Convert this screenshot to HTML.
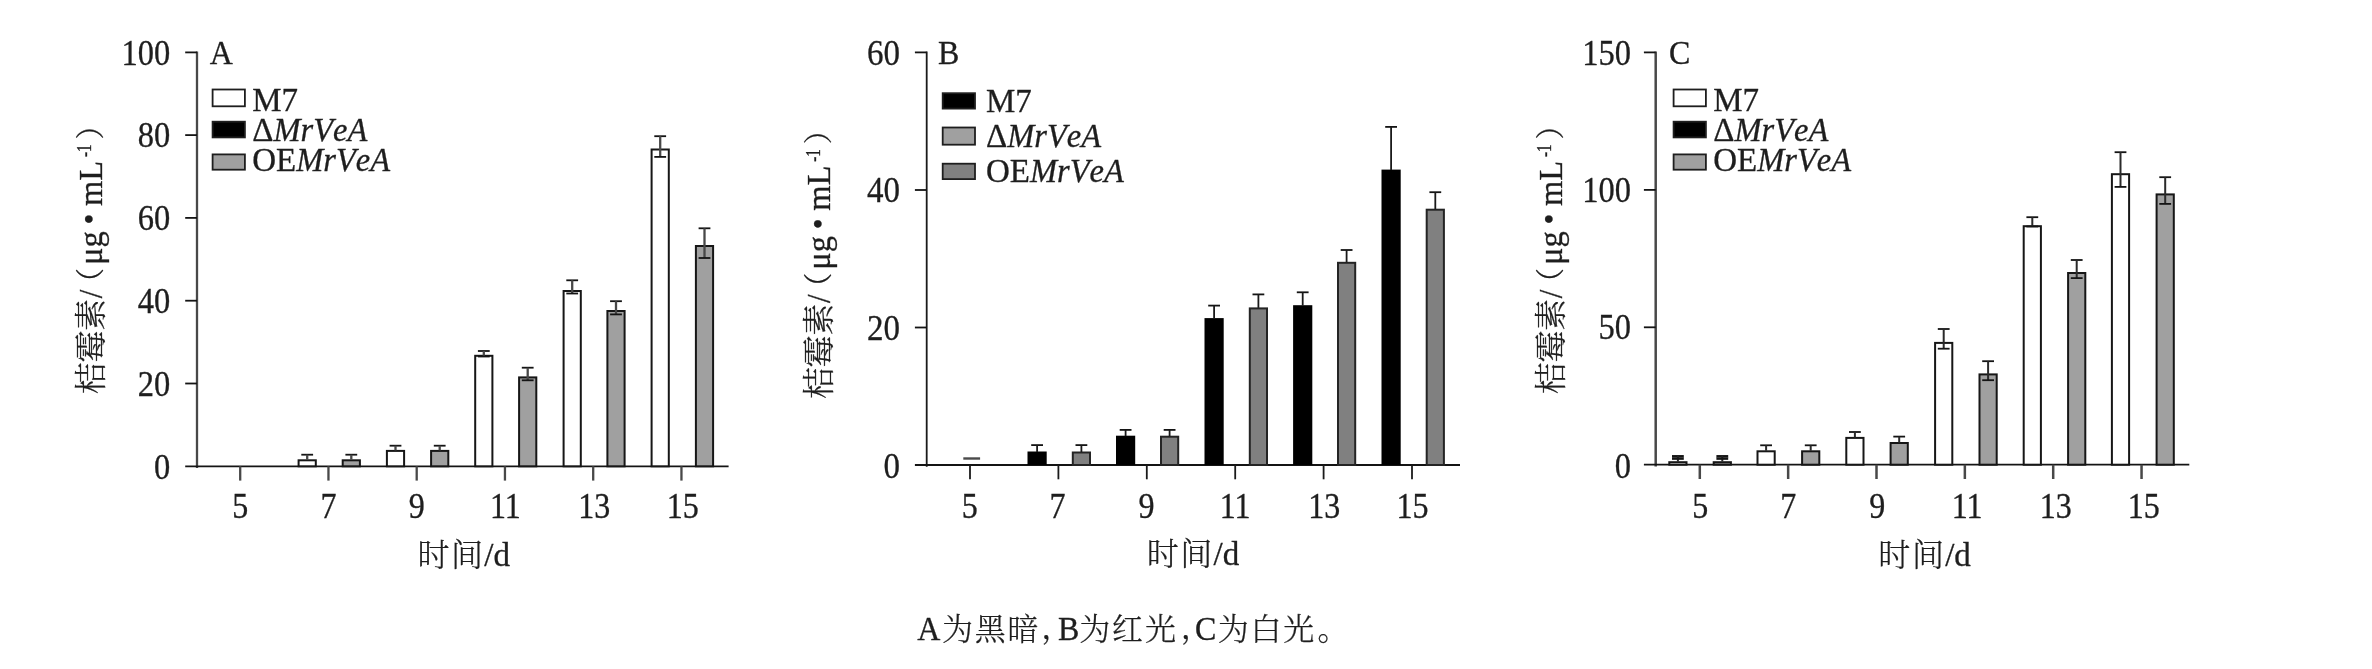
<!DOCTYPE html>
<html lang="zh-CN">
<head>
<meta charset="utf-8">
<title>桔霉素</title>
<style>
html,body{margin:0;padding:0;background:#fff;}
body{width:2372px;height:669px;overflow:hidden;}
svg{display:block;filter:blur(0.45px);}
svg text{font-family:"Liberation Serif","Noto Serif CJK SC",serif;fill:#1e1e1e;stroke:#1e1e1e;stroke-width:0.3px;}
svg text.cj{font-family:"Liberation Serif","Noto Serif CJK SC",serif;font-weight:300;stroke-width:0.25px;}
</style>
</head>
<body>
<svg width="2372" height="669" viewBox="0 0 2372 669">
<rect x="0" y="0" width="2372" height="669" fill="#fff"/>
<g id="pa">
<line x1="197.00" y1="51.50" x2="197.00" y2="468.10" stroke="#484848" stroke-width="2.3" />
<line x1="185.20" y1="466.30" x2="728.60" y2="466.30" stroke="#141414" stroke-width="1.8" />
<line x1="185.20" y1="52.40" x2="197.00" y2="52.40" stroke="#141414" stroke-width="1.8" />
<text transform="translate(170.30 64.50) scale(1 1.1)" text-anchor="end" font-size="32.5" >100</text>
<line x1="185.20" y1="135.10" x2="197.00" y2="135.10" stroke="#141414" stroke-width="1.8" />
<text transform="translate(170.30 147.20) scale(1 1.1)" text-anchor="end" font-size="32.5" >80</text>
<line x1="185.20" y1="217.90" x2="197.00" y2="217.90" stroke="#141414" stroke-width="1.8" />
<text transform="translate(170.30 230.00) scale(1 1.1)" text-anchor="end" font-size="32.5" >60</text>
<line x1="185.20" y1="300.70" x2="197.00" y2="300.70" stroke="#141414" stroke-width="1.8" />
<text transform="translate(170.30 312.80) scale(1 1.1)" text-anchor="end" font-size="32.5" >40</text>
<line x1="185.20" y1="383.50" x2="197.00" y2="383.50" stroke="#141414" stroke-width="1.8" />
<text transform="translate(170.30 395.60) scale(1 1.1)" text-anchor="end" font-size="32.5" >20</text>
<text transform="translate(170.30 479.10) scale(1 1.1)" text-anchor="end" font-size="32.5" >0</text>
<line x1="240.20" y1="466.30" x2="240.20" y2="480.60" stroke="#484848" stroke-width="2.3" />
<text transform="translate(240.20 518.40) scale(1 1.11)" text-anchor="middle" font-size="32" >5</text>
<line x1="328.45" y1="466.30" x2="328.45" y2="480.60" stroke="#484848" stroke-width="2.3" />
<text transform="translate(328.45 518.40) scale(1 1.11)" text-anchor="middle" font-size="32" >7</text>
<line x1="416.70" y1="466.30" x2="416.70" y2="480.60" stroke="#484848" stroke-width="2.3" />
<text transform="translate(416.70 518.40) scale(1 1.11)" text-anchor="middle" font-size="32" >9</text>
<line x1="504.95" y1="466.30" x2="504.95" y2="480.60" stroke="#484848" stroke-width="2.3" />
<text transform="translate(505.45 518.40) scale(1 1.11)" text-anchor="middle" font-size="32" >11</text>
<line x1="593.20" y1="466.30" x2="593.20" y2="480.60" stroke="#484848" stroke-width="2.3" />
<text transform="translate(594.20 518.40) scale(1 1.11)" text-anchor="middle" font-size="32" >13</text>
<line x1="681.45" y1="466.30" x2="681.45" y2="480.60" stroke="#484848" stroke-width="2.3" />
<text transform="translate(682.75 518.40) scale(1 1.11)" text-anchor="middle" font-size="32" >15</text>
<text transform="translate(209.80 64.30) scale(1 1.05)" text-anchor="start" font-size="32" >A</text>
<rect x="212.60" y="89.50" width="32.30" height="16.80" fill="#fff" stroke="#1e1e1e" stroke-width="1.8"/>
<text transform="translate(252.20 110.60) scale(1 1.05)" text-anchor="start" font-size="33" style="font-kerning:none">M7</text>
<rect x="212.60" y="121.70" width="32.30" height="15.70" fill="#000" stroke="#1e1e1e" stroke-width="1.8"/>
<text transform="translate(252.20 140.70) scale(1 1.05)" text-anchor="start" font-size="33" style="font-kerning:none">Δ<tspan font-style="italic" font-size="32.5">MrVeA</tspan></text>
<rect x="212.60" y="154.40" width="32.30" height="15.30" fill="#a0a0a0" stroke="#1e1e1e" stroke-width="1.8"/>
<text transform="translate(252.20 171.40) scale(1 1.05)" text-anchor="start" font-size="33" style="font-kerning:none">OE<tspan font-style="italic" font-size="32.5">MrVeA</tspan></text>
<rect x="298.60" y="460.30" width="17.20" height="6.00" fill="#fff" stroke="#161616" stroke-width="2.0"/>
<line x1="301.30" y1="454.70" x2="313.10" y2="454.70" stroke="#141414" stroke-width="1.8" />
<line x1="307.20" y1="454.70" x2="307.20" y2="459.80" stroke="#484848" stroke-width="2.3" />
<rect x="342.70" y="460.30" width="17.20" height="6.00" fill="#a0a0a0" stroke="#161616" stroke-width="2.0"/>
<line x1="345.40" y1="454.70" x2="357.20" y2="454.70" stroke="#141414" stroke-width="1.8" />
<line x1="351.30" y1="454.70" x2="351.30" y2="459.80" stroke="#484848" stroke-width="2.3" />
<rect x="386.90" y="450.90" width="17.20" height="15.40" fill="#fff" stroke="#161616" stroke-width="2.0"/>
<line x1="389.60" y1="445.70" x2="401.40" y2="445.70" stroke="#141414" stroke-width="1.8" />
<line x1="395.50" y1="445.70" x2="395.50" y2="450.40" stroke="#484848" stroke-width="2.3" />
<rect x="431.10" y="450.90" width="17.20" height="15.40" fill="#a0a0a0" stroke="#161616" stroke-width="2.0"/>
<line x1="433.80" y1="445.70" x2="445.60" y2="445.70" stroke="#141414" stroke-width="1.8" />
<line x1="439.70" y1="445.70" x2="439.70" y2="450.40" stroke="#484848" stroke-width="2.3" />
<rect x="475.20" y="355.80" width="17.20" height="110.50" fill="#fff" stroke="#161616" stroke-width="2.0"/>
<line x1="477.90" y1="351.00" x2="489.70" y2="351.00" stroke="#141414" stroke-width="1.8" />
<line x1="483.80" y1="351.00" x2="483.80" y2="356.50" stroke="#484848" stroke-width="2.3" />
<line x1="477.90" y1="356.50" x2="489.70" y2="356.50" stroke="#141414" stroke-width="1.8" />
<rect x="519.10" y="377.40" width="17.20" height="88.90" fill="#a0a0a0" stroke="#161616" stroke-width="2.0"/>
<line x1="521.80" y1="367.70" x2="533.60" y2="367.70" stroke="#141414" stroke-width="1.8" />
<line x1="527.70" y1="367.70" x2="527.70" y2="380.30" stroke="#484848" stroke-width="2.3" />
<line x1="521.80" y1="380.30" x2="533.60" y2="380.30" stroke="#141414" stroke-width="1.8" />
<rect x="563.60" y="291.00" width="17.20" height="175.30" fill="#fff" stroke="#161616" stroke-width="2.0"/>
<line x1="566.30" y1="280.30" x2="578.10" y2="280.30" stroke="#141414" stroke-width="1.8" />
<line x1="572.20" y1="280.30" x2="572.20" y2="293.50" stroke="#484848" stroke-width="2.3" />
<line x1="566.30" y1="293.50" x2="578.10" y2="293.50" stroke="#141414" stroke-width="1.8" />
<rect x="607.40" y="311.00" width="17.20" height="155.30" fill="#a0a0a0" stroke="#161616" stroke-width="2.0"/>
<line x1="610.10" y1="301.20" x2="621.90" y2="301.20" stroke="#141414" stroke-width="1.8" />
<line x1="616.00" y1="301.20" x2="616.00" y2="314.40" stroke="#484848" stroke-width="2.3" />
<line x1="610.10" y1="314.40" x2="621.90" y2="314.40" stroke="#141414" stroke-width="1.8" />
<rect x="651.60" y="149.50" width="17.20" height="316.80" fill="#fff" stroke="#161616" stroke-width="2.0"/>
<line x1="654.30" y1="136.20" x2="666.10" y2="136.20" stroke="#141414" stroke-width="1.8" />
<line x1="660.20" y1="136.20" x2="660.20" y2="156.90" stroke="#484848" stroke-width="2.3" />
<line x1="654.30" y1="156.90" x2="666.10" y2="156.90" stroke="#141414" stroke-width="1.8" />
<rect x="695.90" y="246.00" width="17.20" height="220.30" fill="#a0a0a0" stroke="#161616" stroke-width="2.0"/>
<line x1="698.60" y1="228.30" x2="710.40" y2="228.30" stroke="#141414" stroke-width="1.8" />
<line x1="704.50" y1="228.30" x2="704.50" y2="258.00" stroke="#484848" stroke-width="2.3" />
<line x1="698.60" y1="258.00" x2="710.40" y2="258.00" stroke="#141414" stroke-width="1.8" />
<text x="417.40" y="566.00" font-size="32" class="cj" letter-spacing="1.6">时间</text>
<text x="484.30" y="566.00" font-size="33">/d</text>
<g transform="translate(101.50,0.00) rotate(-90)">
<text transform="translate(-394.30 0.00) scale(1 1.0)" font-size="32" class="cj" letter-spacing="-0.3">桔霉素</text>
<text transform="translate(-298.30 0.00) scale(1 1.1)" font-size="31" >/</text>
<text transform="translate(-296.90 -1.00) scale(1 1.0)" font-size="29" class="cj">（</text>
<text transform="translate(-264.90 0.00) scale(1 1.05)" font-size="32.5" >μg</text>
<text transform="translate(-224.40 -1.20) scale(1 1.0)" font-size="31" >•</text>
<text transform="translate(-205.90 0.00) scale(1 1.05)" font-size="32.5" >mL</text>
<text transform="translate(-157.00 -10.2) scale(0.8 1.05)" font-size="19">-1</text>
<text transform="translate(-139.40 -1.00) scale(1 1.0)" font-size="29" class="cj">）</text>
</g>
</g>
<g id="pb">
<line x1="926.70" y1="51.50" x2="926.70" y2="466.80" stroke="#1a1a1a" stroke-width="1.8" />
<line x1="914.90" y1="465.00" x2="1460.00" y2="465.00" stroke="#141414" stroke-width="1.8" />
<line x1="914.90" y1="52.40" x2="926.70" y2="52.40" stroke="#141414" stroke-width="1.8" />
<text transform="translate(900.00 64.50) scale(1 1.06)" text-anchor="end" font-size="33" >60</text>
<line x1="914.90" y1="190.00" x2="926.70" y2="190.00" stroke="#141414" stroke-width="1.8" />
<text transform="translate(900.00 202.10) scale(1 1.06)" text-anchor="end" font-size="33" >40</text>
<line x1="914.90" y1="327.50" x2="926.70" y2="327.50" stroke="#141414" stroke-width="1.8" />
<text transform="translate(900.00 339.60) scale(1 1.06)" text-anchor="end" font-size="33" >20</text>
<text transform="translate(900.00 477.80) scale(1 1.06)" text-anchor="end" font-size="33" >0</text>
<line x1="970.00" y1="465.00" x2="970.00" y2="479.30" stroke="#1a1a1a" stroke-width="1.8" />
<text transform="translate(969.70 518.40) scale(1 1.11)" text-anchor="middle" font-size="32" >5</text>
<line x1="1058.40" y1="465.00" x2="1058.40" y2="479.30" stroke="#1a1a1a" stroke-width="1.8" />
<text transform="translate(1057.60 518.40) scale(1 1.11)" text-anchor="middle" font-size="32" >7</text>
<line x1="1146.80" y1="465.00" x2="1146.80" y2="479.30" stroke="#1a1a1a" stroke-width="1.8" />
<text transform="translate(1146.40 518.40) scale(1 1.11)" text-anchor="middle" font-size="32" >9</text>
<line x1="1235.20" y1="465.00" x2="1235.20" y2="479.30" stroke="#1a1a1a" stroke-width="1.8" />
<text transform="translate(1235.20 518.40) scale(1 1.11)" text-anchor="middle" font-size="32" >11</text>
<line x1="1323.60" y1="465.00" x2="1323.60" y2="479.30" stroke="#1a1a1a" stroke-width="1.8" />
<text transform="translate(1324.20 518.40) scale(1 1.11)" text-anchor="middle" font-size="32" >13</text>
<line x1="1412.00" y1="465.00" x2="1412.00" y2="479.30" stroke="#1a1a1a" stroke-width="1.8" />
<text transform="translate(1412.50 518.40) scale(1 1.11)" text-anchor="middle" font-size="32" >15</text>
<text transform="translate(938.00 64.30) scale(1 1.05)" text-anchor="start" font-size="32" >B</text>
<rect x="942.70" y="93.20" width="32.30" height="15.40" fill="#000" stroke="#1e1e1e" stroke-width="1.8"/>
<text transform="translate(986.00 111.80) scale(1 1.05)" text-anchor="start" font-size="33" style="font-kerning:none">M7</text>
<rect x="942.70" y="127.50" width="32.30" height="17.20" fill="#a0a0a0" stroke="#1e1e1e" stroke-width="1.8"/>
<text transform="translate(986.00 146.80) scale(1 1.05)" text-anchor="start" font-size="33" style="font-kerning:none">Δ<tspan font-style="italic" font-size="32.5">MrVeA</tspan></text>
<rect x="942.70" y="163.70" width="32.30" height="15.40" fill="#808080" stroke="#1e1e1e" stroke-width="1.8"/>
<text transform="translate(986.00 181.90) scale(1 1.05)" text-anchor="start" font-size="33" style="font-kerning:none">OE<tspan font-style="italic" font-size="32.5">MrVeA</tspan></text>
<rect x="1027.50" y="451.50" width="19.20" height="13.50" fill="#000" stroke="none" stroke-width="0"/>
<line x1="1031.20" y1="445.10" x2="1043.00" y2="445.10" stroke="#141414" stroke-width="1.8" />
<line x1="1037.10" y1="445.10" x2="1037.10" y2="452.00" stroke="#1a1a1a" stroke-width="1.8" />
<rect x="1072.80" y="452.50" width="17.20" height="12.50" fill="#808080" stroke="#242424" stroke-width="2.0"/>
<line x1="1075.50" y1="445.10" x2="1087.30" y2="445.10" stroke="#141414" stroke-width="1.8" />
<line x1="1081.40" y1="445.10" x2="1081.40" y2="452.00" stroke="#1a1a1a" stroke-width="1.8" />
<rect x="1116.00" y="435.70" width="19.20" height="29.30" fill="#000" stroke="none" stroke-width="0"/>
<line x1="1119.70" y1="429.90" x2="1131.50" y2="429.90" stroke="#141414" stroke-width="1.8" />
<line x1="1125.60" y1="429.90" x2="1125.60" y2="436.20" stroke="#1a1a1a" stroke-width="1.8" />
<rect x="1161.00" y="436.70" width="17.20" height="28.30" fill="#808080" stroke="#242424" stroke-width="2.0"/>
<line x1="1163.70" y1="429.90" x2="1175.50" y2="429.90" stroke="#141414" stroke-width="1.8" />
<line x1="1169.60" y1="429.90" x2="1169.60" y2="436.20" stroke="#1a1a1a" stroke-width="1.8" />
<rect x="1204.50" y="318.10" width="19.20" height="146.90" fill="#000" stroke="none" stroke-width="0"/>
<line x1="1208.20" y1="305.60" x2="1220.00" y2="305.60" stroke="#141414" stroke-width="1.8" />
<line x1="1214.10" y1="305.60" x2="1214.10" y2="318.60" stroke="#1a1a1a" stroke-width="1.8" />
<rect x="1249.80" y="308.40" width="17.20" height="156.60" fill="#808080" stroke="#242424" stroke-width="2.0"/>
<line x1="1252.50" y1="294.40" x2="1264.30" y2="294.40" stroke="#141414" stroke-width="1.8" />
<line x1="1258.40" y1="294.40" x2="1258.40" y2="307.90" stroke="#1a1a1a" stroke-width="1.8" />
<rect x="1293.10" y="305.20" width="19.20" height="159.80" fill="#000" stroke="none" stroke-width="0"/>
<line x1="1296.80" y1="292.30" x2="1308.60" y2="292.30" stroke="#141414" stroke-width="1.8" />
<line x1="1302.70" y1="292.30" x2="1302.70" y2="305.70" stroke="#1a1a1a" stroke-width="1.8" />
<rect x="1338.00" y="262.80" width="17.20" height="202.20" fill="#808080" stroke="#242424" stroke-width="2.0"/>
<line x1="1340.70" y1="250.00" x2="1352.50" y2="250.00" stroke="#141414" stroke-width="1.8" />
<line x1="1346.60" y1="250.00" x2="1346.60" y2="262.30" stroke="#1a1a1a" stroke-width="1.8" />
<rect x="1381.50" y="169.60" width="19.20" height="295.40" fill="#000" stroke="none" stroke-width="0"/>
<line x1="1385.20" y1="126.90" x2="1397.00" y2="126.90" stroke="#141414" stroke-width="1.8" />
<line x1="1391.10" y1="126.90" x2="1391.10" y2="170.10" stroke="#1a1a1a" stroke-width="1.8" />
<rect x="1426.70" y="209.70" width="17.20" height="255.30" fill="#808080" stroke="#242424" stroke-width="2.0"/>
<line x1="1429.40" y1="192.20" x2="1441.20" y2="192.20" stroke="#141414" stroke-width="1.8" />
<line x1="1435.30" y1="192.20" x2="1435.30" y2="209.20" stroke="#1a1a1a" stroke-width="1.8" />
<line x1="963.3" y1="458.5" x2="980.1" y2="458.5" stroke="#4a4a4a" stroke-width="2.4"/>
<text x="1146.70" y="564.80" font-size="32" class="cj" letter-spacing="1.6">时间</text>
<text x="1213.60" y="564.80" font-size="33">/d</text>
<g transform="translate(830.30,4.80) rotate(-90)">
<text transform="translate(-394.30 0.00) scale(1 1.0)" font-size="32" class="cj" letter-spacing="-0.3">桔霉素</text>
<text transform="translate(-298.30 0.00) scale(1 1.1)" font-size="31" >/</text>
<text transform="translate(-296.90 -1.00) scale(1 1.0)" font-size="29" class="cj">（</text>
<text transform="translate(-264.90 0.00) scale(1 1.05)" font-size="32.5" >μg</text>
<text transform="translate(-224.40 -1.20) scale(1 1.0)" font-size="31" >•</text>
<text transform="translate(-205.90 0.00) scale(1 1.05)" font-size="32.5" >mL</text>
<text transform="translate(-157.00 -10.2) scale(0.8 1.05)" font-size="19">-1</text>
<text transform="translate(-139.40 -1.00) scale(1 1.0)" font-size="29" class="cj">）</text>
</g>
</g>
<g id="pc">
<line x1="1655.70" y1="51.50" x2="1655.70" y2="466.50" stroke="#484848" stroke-width="2.5" />
<line x1="1643.90" y1="464.70" x2="2189.30" y2="464.70" stroke="#141414" stroke-width="1.8" />
<line x1="1643.90" y1="52.40" x2="1655.70" y2="52.40" stroke="#141414" stroke-width="1.8" />
<text transform="translate(1631.00 64.50) scale(1 1.1)" text-anchor="end" font-size="32.5" >150</text>
<line x1="1643.90" y1="189.90" x2="1655.70" y2="189.90" stroke="#141414" stroke-width="1.8" />
<text transform="translate(1631.00 202.00) scale(1 1.1)" text-anchor="end" font-size="32.5" >100</text>
<line x1="1643.90" y1="327.30" x2="1655.70" y2="327.30" stroke="#141414" stroke-width="1.8" />
<text transform="translate(1631.00 339.40) scale(1 1.1)" text-anchor="end" font-size="32.5" >50</text>
<text transform="translate(1631.00 477.50) scale(1 1.1)" text-anchor="end" font-size="32.5" >0</text>
<line x1="1699.80" y1="464.70" x2="1699.80" y2="479.00" stroke="#484848" stroke-width="2.5" />
<text transform="translate(1700.20 518.40) scale(1 1.11)" text-anchor="middle" font-size="32" >5</text>
<line x1="1788.15" y1="464.70" x2="1788.15" y2="479.00" stroke="#484848" stroke-width="2.5" />
<text transform="translate(1788.15 518.40) scale(1 1.11)" text-anchor="middle" font-size="32" >7</text>
<line x1="1876.50" y1="464.70" x2="1876.50" y2="479.00" stroke="#484848" stroke-width="2.5" />
<text transform="translate(1877.30 518.40) scale(1 1.11)" text-anchor="middle" font-size="32" >9</text>
<line x1="1964.85" y1="464.70" x2="1964.85" y2="479.00" stroke="#484848" stroke-width="2.5" />
<text transform="translate(1967.05 518.40) scale(1 1.11)" text-anchor="middle" font-size="32" >11</text>
<line x1="2053.20" y1="464.70" x2="2053.20" y2="479.00" stroke="#484848" stroke-width="2.5" />
<text transform="translate(2055.70 518.40) scale(1 1.11)" text-anchor="middle" font-size="32" >13</text>
<line x1="2141.55" y1="464.70" x2="2141.55" y2="479.00" stroke="#484848" stroke-width="2.5" />
<text transform="translate(2143.85 518.40) scale(1 1.11)" text-anchor="middle" font-size="32" >15</text>
<text transform="translate(1669.00 64.30) scale(1 1.05)" text-anchor="start" font-size="32" >C</text>
<rect x="1673.60" y="89.50" width="32.30" height="16.80" fill="#fff" stroke="#1e1e1e" stroke-width="1.8"/>
<text transform="translate(1713.20 110.60) scale(1 1.05)" text-anchor="start" font-size="33" style="font-kerning:none">M7</text>
<rect x="1673.60" y="121.70" width="32.30" height="15.70" fill="#000" stroke="#1e1e1e" stroke-width="1.8"/>
<text transform="translate(1713.20 140.70) scale(1 1.05)" text-anchor="start" font-size="33" style="font-kerning:none">Δ<tspan font-style="italic" font-size="32.5">MrVeA</tspan></text>
<rect x="1673.60" y="154.40" width="32.30" height="15.30" fill="#a0a0a0" stroke="#1e1e1e" stroke-width="1.8"/>
<text transform="translate(1713.20 171.40) scale(1 1.05)" text-anchor="start" font-size="33" style="font-kerning:none">OE<tspan font-style="italic" font-size="32.5">MrVeA</tspan></text>
<rect x="1669.30" y="462.20" width="17.20" height="2.50" fill="#fff" stroke="#161616" stroke-width="2.0"/>
<line x1="1672.00" y1="456.30" x2="1683.80" y2="456.30" stroke="#141414" stroke-width="2.5" />
<line x1="1677.90" y1="456.30" x2="1677.90" y2="461.70" stroke="#2a2a2a" stroke-width="2.0" />
<line x1="1672.00" y1="458.60" x2="1683.80" y2="458.60" stroke="#141414" stroke-width="2.5" />
<rect x="1713.70" y="462.20" width="17.20" height="2.50" fill="#a0a0a0" stroke="#161616" stroke-width="2.0"/>
<line x1="1716.40" y1="456.30" x2="1728.20" y2="456.30" stroke="#141414" stroke-width="2.5" />
<line x1="1722.30" y1="456.30" x2="1722.30" y2="461.70" stroke="#2a2a2a" stroke-width="2.0" />
<line x1="1716.40" y1="458.60" x2="1728.20" y2="458.60" stroke="#141414" stroke-width="2.5" />
<rect x="1757.50" y="451.30" width="17.20" height="13.40" fill="#fff" stroke="#161616" stroke-width="2.0"/>
<line x1="1760.20" y1="445.30" x2="1772.00" y2="445.30" stroke="#141414" stroke-width="1.8" />
<line x1="1766.10" y1="445.30" x2="1766.10" y2="450.80" stroke="#2a2a2a" stroke-width="2.0" />
<rect x="1802.10" y="451.30" width="17.20" height="13.40" fill="#a0a0a0" stroke="#161616" stroke-width="2.0"/>
<line x1="1804.80" y1="445.30" x2="1816.60" y2="445.30" stroke="#141414" stroke-width="1.8" />
<line x1="1810.70" y1="445.30" x2="1810.70" y2="450.80" stroke="#2a2a2a" stroke-width="2.0" />
<rect x="1846.30" y="437.90" width="17.20" height="26.80" fill="#fff" stroke="#161616" stroke-width="2.0"/>
<line x1="1849.00" y1="432.00" x2="1860.80" y2="432.00" stroke="#141414" stroke-width="1.8" />
<line x1="1854.90" y1="432.00" x2="1854.90" y2="437.40" stroke="#2a2a2a" stroke-width="2.0" />
<rect x="1890.60" y="443.00" width="17.20" height="21.70" fill="#a0a0a0" stroke="#161616" stroke-width="2.0"/>
<line x1="1893.30" y1="436.60" x2="1905.10" y2="436.60" stroke="#141414" stroke-width="1.8" />
<line x1="1899.20" y1="436.60" x2="1899.20" y2="442.50" stroke="#2a2a2a" stroke-width="2.0" />
<rect x="1935.10" y="342.90" width="17.20" height="121.80" fill="#fff" stroke="#161616" stroke-width="2.0"/>
<line x1="1937.80" y1="329.00" x2="1949.60" y2="329.00" stroke="#141414" stroke-width="1.8" />
<line x1="1943.70" y1="329.00" x2="1943.70" y2="348.70" stroke="#2a2a2a" stroke-width="2.0" />
<line x1="1937.80" y1="348.70" x2="1949.60" y2="348.70" stroke="#141414" stroke-width="1.8" />
<rect x="1979.50" y="374.40" width="17.20" height="90.30" fill="#a0a0a0" stroke="#161616" stroke-width="2.0"/>
<line x1="1982.20" y1="361.20" x2="1994.00" y2="361.20" stroke="#141414" stroke-width="1.8" />
<line x1="1988.10" y1="361.20" x2="1988.10" y2="380.20" stroke="#2a2a2a" stroke-width="2.0" />
<line x1="1982.20" y1="380.20" x2="1994.00" y2="380.20" stroke="#141414" stroke-width="1.8" />
<rect x="2023.70" y="226.20" width="17.20" height="238.50" fill="#fff" stroke="#161616" stroke-width="2.0"/>
<line x1="2026.40" y1="217.20" x2="2038.20" y2="217.20" stroke="#141414" stroke-width="1.8" />
<line x1="2032.30" y1="217.20" x2="2032.30" y2="226.50" stroke="#2a2a2a" stroke-width="2.0" />
<line x1="2026.40" y1="226.50" x2="2038.20" y2="226.50" stroke="#141414" stroke-width="1.8" />
<rect x="2068.10" y="273.00" width="17.20" height="191.70" fill="#a0a0a0" stroke="#161616" stroke-width="2.0"/>
<line x1="2070.80" y1="260.00" x2="2082.60" y2="260.00" stroke="#141414" stroke-width="1.8" />
<line x1="2076.70" y1="260.00" x2="2076.70" y2="278.10" stroke="#2a2a2a" stroke-width="2.0" />
<line x1="2070.80" y1="278.10" x2="2082.60" y2="278.10" stroke="#141414" stroke-width="1.8" />
<rect x="2111.90" y="174.20" width="17.20" height="290.50" fill="#fff" stroke="#161616" stroke-width="2.0"/>
<line x1="2114.60" y1="152.20" x2="2126.40" y2="152.20" stroke="#141414" stroke-width="1.8" />
<line x1="2120.50" y1="152.20" x2="2120.50" y2="186.90" stroke="#2a2a2a" stroke-width="2.0" />
<line x1="2114.60" y1="186.90" x2="2126.40" y2="186.90" stroke="#141414" stroke-width="1.8" />
<rect x="2156.60" y="194.40" width="17.20" height="270.30" fill="#a0a0a0" stroke="#161616" stroke-width="2.0"/>
<line x1="2159.30" y1="177.20" x2="2171.10" y2="177.20" stroke="#141414" stroke-width="1.8" />
<line x1="2165.20" y1="177.20" x2="2165.20" y2="203.90" stroke="#2a2a2a" stroke-width="2.0" />
<line x1="2159.30" y1="203.90" x2="2171.10" y2="203.90" stroke="#141414" stroke-width="1.8" />
<text x="1878.30" y="566.00" font-size="32" class="cj" letter-spacing="1.6">时间</text>
<text x="1945.20" y="566.00" font-size="33">/d</text>
<g transform="translate(1561.50,0.00) rotate(-90)">
<text transform="translate(-394.30 0.00) scale(1 1.0)" font-size="32" class="cj" letter-spacing="-0.3">桔霉素</text>
<text transform="translate(-298.30 0.00) scale(1 1.1)" font-size="31" >/</text>
<text transform="translate(-296.90 -1.00) scale(1 1.0)" font-size="29" class="cj">（</text>
<text transform="translate(-264.90 0.00) scale(1 1.05)" font-size="32.5" >μg</text>
<text transform="translate(-224.40 -1.20) scale(1 1.0)" font-size="31" >•</text>
<text transform="translate(-205.90 0.00) scale(1 1.05)" font-size="32.5" >mL</text>
<text transform="translate(-157.00 -10.2) scale(0.8 1.05)" font-size="19">-1</text>
<text transform="translate(-139.40 -1.00) scale(1 1.0)" font-size="29" class="cj">）</text>
</g>
</g>
<text transform="translate(917.30 639.8) scale(1 1.08)" font-size="32">A</text>
<text x="941.90" y="639.80" font-size="31" class="cj" letter-spacing="1.8">为黑暗</text>
<text x="1041.30" y="637.80" font-size="31" class="cj" letter-spacing="1.8">，</text>
<text transform="translate(1057.90 639.8) scale(1 1.08)" font-size="32">B</text>
<text x="1079.30" y="639.80" font-size="31" class="cj" letter-spacing="1.8">为红光</text>
<text x="1180.80" y="637.80" font-size="31" class="cj" letter-spacing="1.8">，</text>
<text transform="translate(1194.90 639.8) scale(1 1.08)" font-size="32">C</text>
<text x="1217.70" y="639.80" font-size="31" class="cj" letter-spacing="1.8">为白光</text>
<text x="1317.50" y="639.80" font-size="31" class="cj" letter-spacing="1.8">。</text>
</svg>
</body>
</html>
